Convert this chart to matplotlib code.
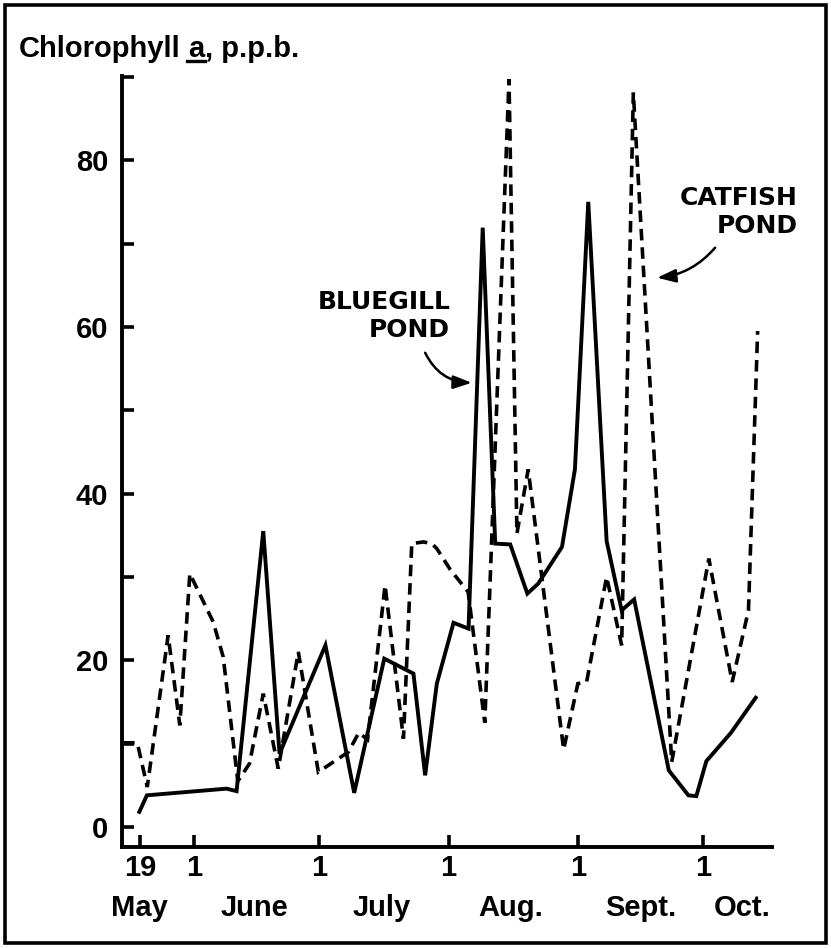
import matplotlib
matplotlib.use('Agg')
import matplotlib.pyplot as plt
from matplotlib.patches import Rectangle

# ---------------- data (day of year) ----------------
bluegill_day = [138.7, 140.7, 159.8, 162.2, 168.6, 172.5, 183.5, 190.4, 197.6, 204.6,
                207.4, 210.2, 214.2, 217.8, 221.2, 224.2, 227.8, 231.9, 234.5, 240.2,
                243.3, 246.5, 250.9, 254.5, 257.5, 265.8, 270.5, 272.4, 274.8, 280.7,
                286.9]
bluegill_val = [1.6, 3.8, 4.6, 4.3, 35.5, 8.8, 21.8, 4.1, 20.2, 18.4,
                6.2, 17.2, 24.5, 23.8, 71.9, 34.0, 33.9, 28.0, 29.2, 33.6,
                42.9, 75.0, 34.3, 26.0, 27.3, 6.8, 3.8, 3.7, 7.9, 11.3,
                15.7]

catfish_day = [135.0, 138.4, 140.8, 145.8, 148.6, 151.0, 156.6, 159.0, 162.5, 165.3,
               168.6, 172.2, 177.0, 181.8, 189.0, 191.5, 193.6, 197.8, 202.2, 204.2,
               207.0, 209.0, 210.2, 213.4, 217.7, 221.7, 227.5, 229.4, 232.1, 240.6,
               244.0, 246.1, 250.9, 254.5, 257.3, 266.5, 275.4, 281.0, 284.9, 287.1]
catfish_val = [10.1, 10.1, 4.8, 23.0, 12.2, 30.4, 24.6, 20.4, 5.5, 7.6,
               16.0, 7.0, 21.0, 6.6, 9.0, 11.3, 10.5, 29.0, 10.6, 34.0,
               34.2, 34.0, 33.4, 30.9, 28.2, 12.5, 89.7, 35.2, 42.9, 9.3,
               17.2, 17.4, 30.0, 21.8, 88.1, 7.8, 32.2, 17.4, 26.0, 59.5]

tick_days = [139, 152, 182, 213, 244, 274]
tick_labels = ['19', '1', '1', '1', '1', '1']
month_days = [139, 166.5, 197, 228, 259, 283.5]
month_labels = ['May', 'June', 'July', 'Aug.', 'Sept.', 'Oct.']
y_ticks = [0, 10, 20, 30, 40, 50, 60, 70, 80, 90]
y_labels = ['0', '', '20', '', '40', '', '60', '', '80', '']

# ---------------- style ----------------
plt.rcParams['font.family'] = ['Liberation Sans Narrow', 'Liberation Sans', 'DejaVu Sans']
plt.rcParams['font.weight'] = 'bold'

W, H = 831, 948
fig = plt.figure(figsize=(W / 100, H / 100), dpi=100)
ax = fig.add_axes([122 / W, 1 - 847 / H, (772 - 122) / W, (847 - 76) / H])

ax.plot(bluegill_day, bluegill_val, color='black', lw=2.8,
        solid_joinstyle='miter', solid_capstyle='butt')
ax.plot(catfish_day, catfish_val, color='black', lw=2.6,
        linestyle=(0, (3.2, 1.9)), dash_capstyle='butt', dash_joinstyle='miter')

ax.set_xlim(134.74, 290.54)
ax.set_ylim(-2.4, 90.1)

for s in ['top', 'right']:
    ax.spines[s].set_visible(False)
for s in ['left', 'bottom']:
    ax.spines[s].set_linewidth(2.8)
    ax.spines[s].set_capstyle('projecting')

ax.xaxis.remove_overlapping_locs = False

ax.set_yticks(y_ticks)
ax.set_yticklabels(y_labels)
ax.tick_params(axis='y', direction='in', length=8.6, width=2.6, pad=10,
               labelsize=21)

ax.set_xticks(tick_days)
ax.set_xticklabels(tick_labels)
ax.set_xticks(month_days, minor=True)
ax.set_xticklabels(month_labels, minor=True)
ax.tick_params(axis='x', which='major', direction='in', length=9, width=2.6,
               pad=5, labelsize=21)
ax.tick_params(axis='x', which='minor', length=0, pad=34, labelsize=21)

# ---------------- annotations ----------------
ann_font = dict(family=['DejaVu Sans'], weight='bold', size=18)
ax.text(213.4, 61.3, 'BLUEGILL\nPOND', ha='right', va='center',
        multialignment='right', linespacing=1.2, **ann_font)
ax.text(296.8, 73.8, 'CATFISH\nPOND', ha='right', va='center',
        multialignment='right', linespacing=1.2, clip_on=False, **ann_font)

arrow = dict(arrowstyle='-|>,head_length=0.7,head_width=0.25', color='black',
             lw=1.8, mutation_scale=16, shrinkA=0, shrinkB=0)
ax.annotate('', xy=(218.6, 53.3), xytext=(207.4, 56.9),
            arrowprops=dict(connectionstyle='arc3,rad=0.3', **arrow))
ax.annotate('', xy=(263.0, 65.9), xytext=(276.9, 69.5),
            arrowprops=dict(connectionstyle='arc3,rad=-0.2', **arrow),
            annotation_clip=False)

# ---------------- title with underlined "a" ----------------
base_y = 1 - 57 / H
title_kw = dict(size=21, weight='bold', va='baseline')
t1 = fig.text(19 / W, base_y, 'Chlorophyll', **title_kw)
fig.canvas.draw()
r = fig.canvas.get_renderer()
b1 = t1.get_window_extent(r)
ta = fig.text((b1.x1 + 7) / W, base_y, 'a', **title_kw)
fig.canvas.draw()
ba = ta.get_window_extent(r)
t3 = fig.text((ba.x1 + 1) / W, base_y, ', p.p.b.', **title_kw)
fig.add_artist(plt.Line2D([(ba.x0 - 1) / W, (ba.x1 + 1) / W],
                          [base_y - 4 / H, base_y - 4 / H],
                          transform=fig.transFigure, color='black', lw=2.4))

# ---------------- border ----------------
fig.add_artist(Rectangle((5 / W, 5 / H), 821 / W, 938 / H, transform=fig.transFigure,
                         fill=False, edgecolor='black', lw=2.6))

fig.savefig('out.png', dpi=100)
